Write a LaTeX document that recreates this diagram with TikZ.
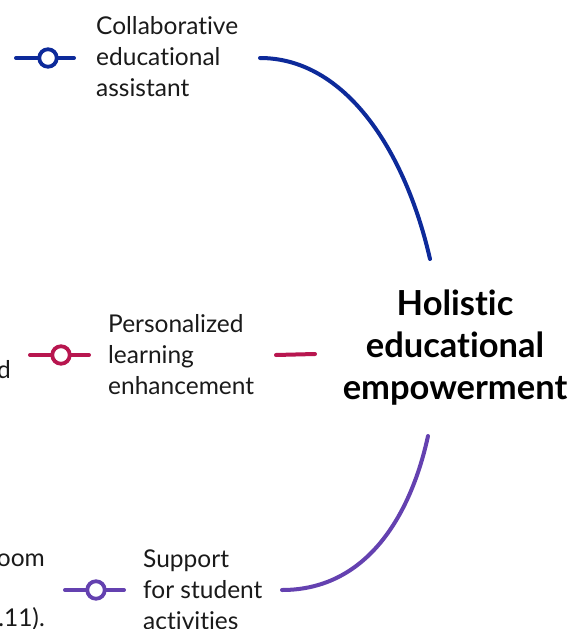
\documentclass[tikz,border=0pt]{standalone}
\usepackage{fontspec}
\setmainfont{Lato}[Ligatures={NoCommon}]
\definecolor{cblue}{HTML}{0D2A9A}
\definecolor{cred}{HTML}{B8164F}
\definecolor{cpurple}{HTML}{6441B0}
\definecolor{ctext}{HTML}{1A1A1A}
\begin{document}
\begin{tikzpicture}[x=1pt,y=-1pt,
  lbl/.style={anchor=west,align=left,inner sep=0pt,text=ctext,font=\fontsize{24.5}{31}\selectfont},
  hub/.style={align=center,inner sep=0pt,text=black,font=\bfseries\fontsize{34.5}{42}\selectfont},
  ring/.style={circle,draw=#1,fill=white,line width=3.8pt,minimum size=17.5pt,inner sep=0pt},
  wire/.style={draw=#1,line width=4pt,line cap=round}]
\useasboundingbox (0,0) rectangle (572,629);
\clip (0,0) rectangle (572,629);
\fill[white] (0,0) rectangle (572,629);

% hub
\node[hub] (hub) at (455,348) {Holistic\\educational\\empowerment};

% blue branch
\coordinate (b0) at (16,58);
\coordinate (b1) at (74,58);
\path[wire=cblue] (b0) -- (b1);
\node[ring=cblue] (bc) at (48,58) {};
\node[lbl] (bt) at (96,57) {Collaborative\\educational\\assistant};
\coordinate (bs) at (260,58);
\coordinate (be) at (430,259);
\path[wire=cblue] (bs) .. controls (345,58) and (405,150) .. (be);

% red branch
\coordinate (r0) at (30,355);
\coordinate (r1) at (89,355);
\path[wire=cred] (r0) -- (r1);
\node[ring=cred] (rc) at (61,355) {};
\node[lbl] (rt) at (108,355) {Personalized\\learning\\enhancement};
\coordinate (rs) at (276,355);
\coordinate (re) at (315,354);
\path[wire=cred] (rs) -- (re);

% purple branch
\coordinate (p0) at (65,590);
\coordinate (p1) at (124,590);
\path[wire=cpurple] (p0) -- (p1);
\node[ring=cpurple] (pc) at (96,590) {};
\node[lbl] (pt) at (143,590) {Support\\for student\\activities};
\coordinate (ps) at (282,590);
\coordinate (pe) at (428,436);
\path[wire=cpurple] (ps) .. controls (370,590) and (412,510) .. (pe);

% cut-off text at left edge
\node[lbl,anchor=east] (x1) at (11,370) {d};
\node[lbl,anchor=east] (x2) at (45,560) {oom};
\node[lbl,anchor=east] (x3) at (45,619) {.11).};
\end{tikzpicture}
\end{document}
